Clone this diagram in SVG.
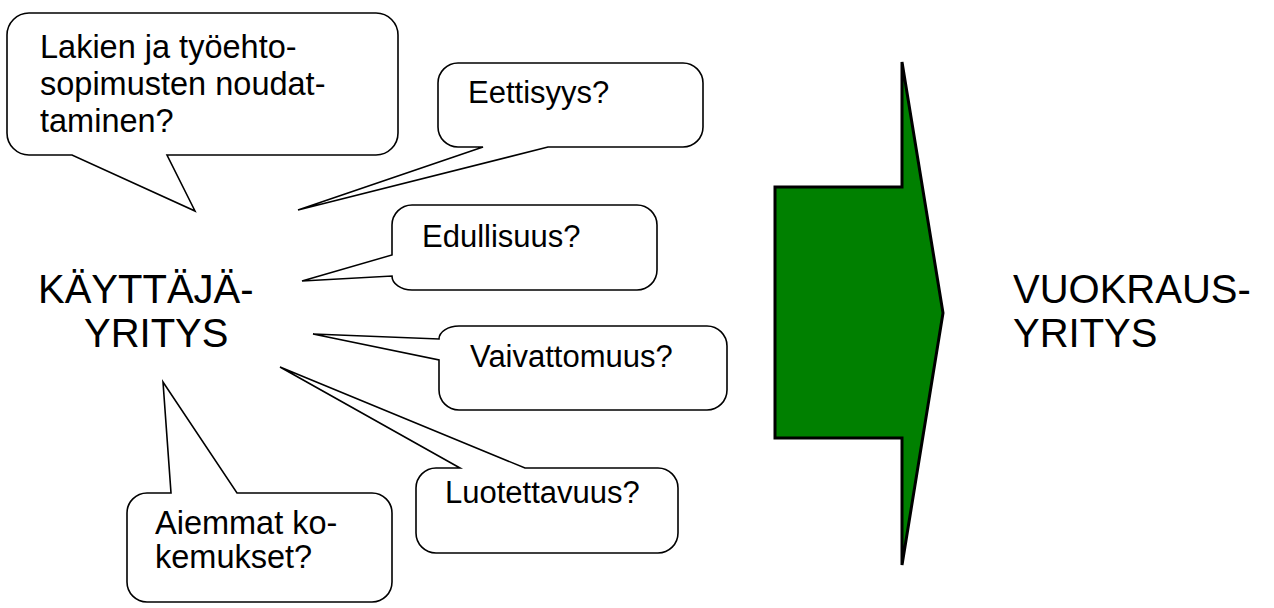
<svg xmlns="http://www.w3.org/2000/svg" width="1274" height="608" viewBox="0 0 1274 608">
<style>
.callout{fill:#fff;stroke:#000;stroke-width:1.6;stroke-linejoin:miter}
.t{font-family:"Liberation Sans",Arial,sans-serif;font-size:31px;fill:#000}
.t2{font-family:"Liberation Sans",Arial,sans-serif;font-size:32.5px;fill:#000}
.big{font-family:"Liberation Sans",Arial,sans-serif;font-size:40px;fill:#000}
.arrow{fill:#008000;stroke:#000;stroke-width:3;stroke-linejoin:miter}
</style>
<rect width="1274" height="608" fill="#fff"/>
<g id="kayttajayritys">
<text class="big" x="38" y="303">KÄYTTÄJÄ-</text>
<text class="big" x="84" y="347">YRITYS</text>
</g>
<g id="vuokrausyritys">
<text class="big" x="1013" y="303">VUOKRAUS-</text>
<text class="big" x="1013" y="347">YRITYS</text>
</g>
<g id="arrow">
<path class="arrow" d="M775,187 H902 V62 L943,313 L902,565 V438 H775 Z"/>
</g>
<g id="lakien">
<path class="callout" d="M29,13 H376 A22 22 0 0 1 398 35 V133 A22 22 0 0 1 376 155 H167 L195,211 L72,155 H29 A22 22 0 0 1 7 133 V35 A22 22 0 0 1 29 13 Z"/>
<text class="t2" x="40" y="58" font-size="33.5">Lakien ja työehto-</text>
<text class="t2" x="40" y="95" font-size="33.5">sopimusten noudat-</text>
<text class="t2" x="40" y="132" font-size="33.5">taminen?</text>
</g>
<g id="eettisyys">
<path class="callout" d="M458,63 H683 A20 20 0 0 1 703 83 V127 A20 20 0 0 1 683 147 H548 L298,210 L483,147 H458 A20 20 0 0 1 438 127 V83 A20 20 0 0 1 458 63 Z"/>
<text class="t" x="468" y="103">Eettisyys?</text>
</g>
<g id="edullisuus">
<path class="callout" d="M412,205 H637 A20 20 0 0 1 657 225 V270 A20 20 0 0 1 637 290 H412 A20 14 0 0 1 392 276 L302,281 L392,255 V225 A20 20 0 0 1 412 205 Z"/>
<text class="t" x="422" y="247">Edullisuus?</text>
</g>
<g id="vaivattomuus">
<path class="callout" d="M459,326 H707 A20 20 0 0 1 727 346 V390 A20 20 0 0 1 707 410 H459 A20 20 0 0 1 439 390 V360 L313,334 L439,339 A20 13 0 0 1 459 326 Z"/>
<text class="t" x="470" y="367" font-size="31.8">Vaivattomuus?</text>
</g>
<g id="luotettavuus">
<path class="callout" d="M436,468 H460 L280,367 L525,468 H658 A20 20 0 0 1 678 488 V533 A20 20 0 0 1 658 553 H436 A20 20 0 0 1 416 533 V488 A20 20 0 0 1 436 468 Z"/>
<text class="t" x="445" y="503">Luotettavuus?</text>
</g>
<g id="aiemmat">
<path class="callout" d="M147,493 H171 L163,382 L237,493 H372 A20 20 0 0 1 392 513 V582 A20 20 0 0 1 372 602 H147 A20 20 0 0 1 127 582 V513 A20 20 0 0 1 147 493 Z"/>
<text class="t2" x="155" y="534">Aiemmat ko-</text>
<text class="t2" x="155" y="568">kemukset?</text>
</g>
<g id="connectors"></g>
</svg>
